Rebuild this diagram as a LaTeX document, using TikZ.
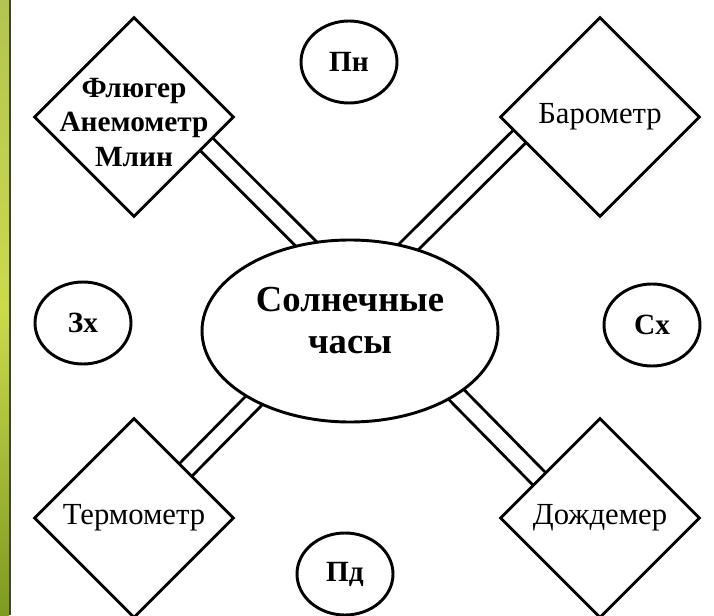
\documentclass[tikz,border=0pt]{standalone}
\usepackage{fontspec}
\setmainfont{Liberation Serif}
\usetikzlibrary{shapes.geometric, backgrounds}

\definecolor{striptop}{HTML}{B3C452}
\definecolor{stripmid}{HTML}{CBDA4C}
\definecolor{stripbot}{HTML}{7E9A22}

\begin{document}
\begin{tikzpicture}[x=0.75pt, y=0.75pt,
	c/.style={ellipse, draw, line width=2.2pt, fill=white, minimum width=72pt, minimum height=61.5pt, inner sep=0pt, font=\fontsize{22}{26}\selectfont\bfseries},
	dm/.style={diamond, draw, line width=2.2pt, fill=white, minimum size=150pt, inner sep=0pt, font=\fontsize{23}{27}\selectfont},
	hub/.style={ellipse, draw, line width=2.2pt, fill=white, minimum width=222pt, minimum height=136.5pt, inner sep=0pt, align=center, font=\fontsize{27.5}{32}\selectfont\bfseries},
	lbl/.style={align=center, yshift=-4pt, font=\fontsize{22}{26}\selectfont\bfseries},
	dbl/.style={draw, double, double distance=11pt, line width=2.2pt, shorten <=-3pt, shorten >=-12pt}]
	\useasboundingbox (0,0) rectangle (714,615);

	\node[hub, text depth=16pt] (sun) at (350,284) {Солнечные\\часы};
	\node[dm, label={[lbl]center:Флюгер\\Анемометр\\Млин}] (tl) at (134,498) {};
	\node[dm] (tr) at (600,498) {Барометр};
	\node[dm] (bl) at (134,97) {Термометр};
	\node[dm] (br) at (600,97) {Дождемер};
	\node[c] (n) at (349,553) {Пн};
	\node[c] (s) at (345,41) {Пд};
	\node[c] (w) at (83,292) {Зх};
	\node[c] (e) at (652,290) {Сх};

	\begin{scope}[on background layer]
		\fill[white] (0,0) rectangle (714,615);
		\shade[top color=striptop, bottom color=stripbot, middle color=stripmid] (0,0) rectangle (9,615);
		\fill[black!75] (9,0) rectangle (11,615);
		\path (tl.-21) edge[dbl] (sun.117);
		\path (tr.194) edge[dbl] (sun.55);
		\path (bl.43) edge[dbl] (sun.216);
		\path (br.147) edge[dbl] (sun.-31);
	\end{scope}
\end{tikzpicture}
\end{document}
